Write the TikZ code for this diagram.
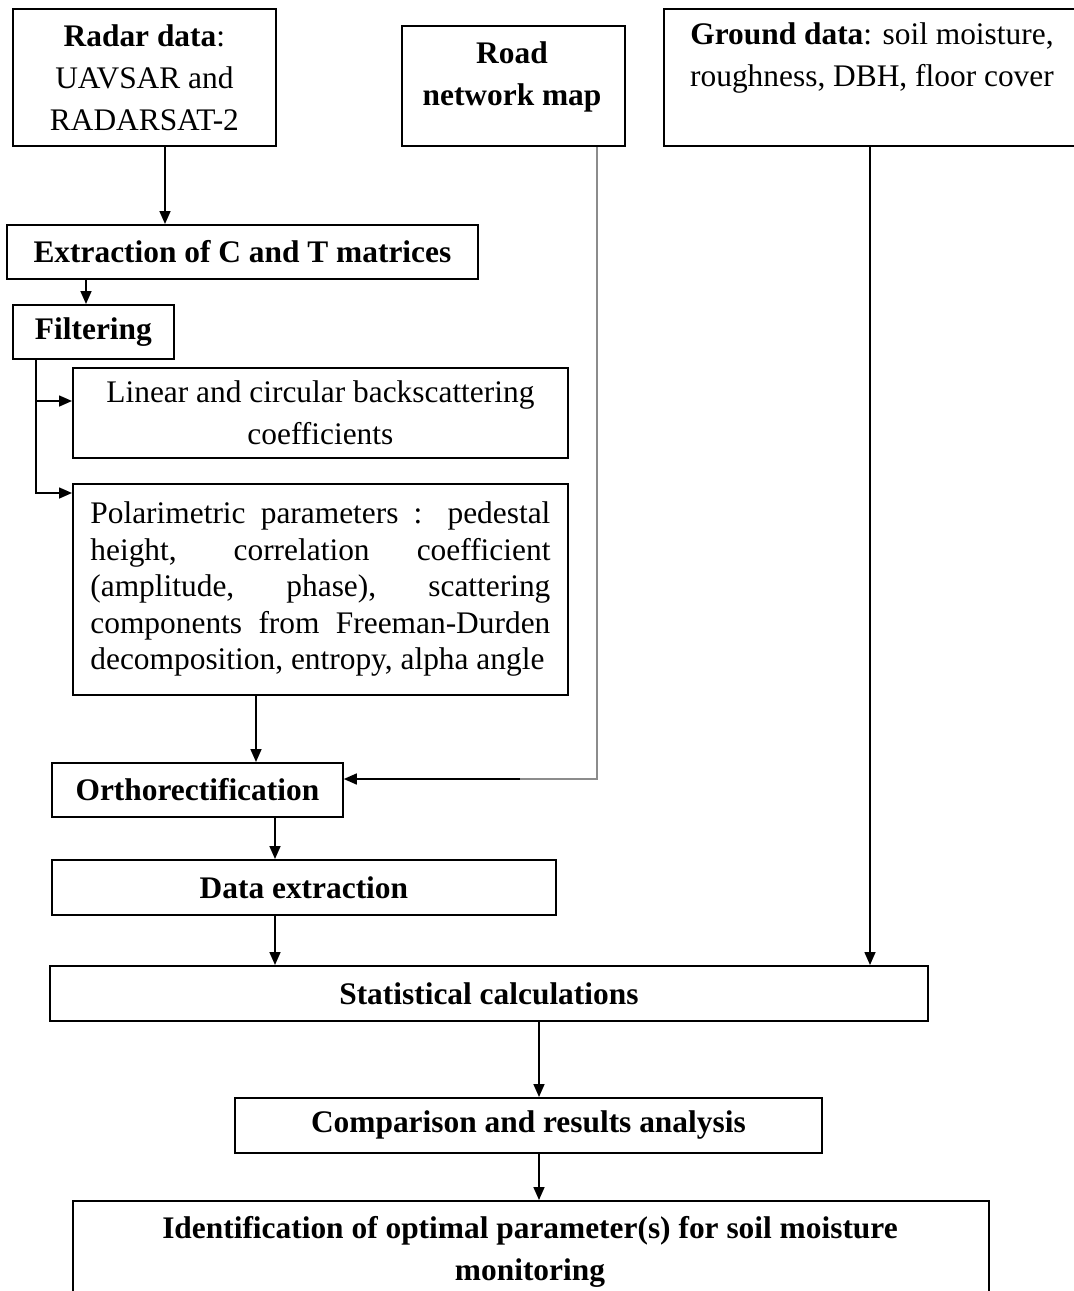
\documentclass[tikz,border=0pt]{standalone}
\usepackage{fontspec}
\setmainfont{Liberation Serif}
\usetikzlibrary{arrows.meta}
\tikzset{flow_box/.style={draw=black, line width=1.8pt, inner sep=0pt, anchor=north west, align=center, font=\fontsize{31.4}{42}\selectfont}}
\tikzset{flow_text/.style={inner sep=0pt, align=center, font=\fontsize{31.4}{42}\selectfont}}
\tikzset{flow_arrow/.style={line width=1.6pt, -{Triangle[length=13pt,width=11pt]}}}
\tikzset{road_line/.style={line width=1.6pt, draw=black!45}}

\begin{document}
\begin{tikzpicture}[x=1pt,y=-1pt]
    \useasboundingbox (0,0) rectangle (1074,1291);
    \node[flow_box,minimum width=263pt,minimum height=137pt] (radar) at (12,8) {\textbf{Radar data}:\\UAVSAR and\\RADARSAT-2};
    \node[flow_box,minimum width=223pt,minimum height=120pt] (road) at (401,25) {};
    \node[flow_text] (roadtxt) at (512,77) {\textbf{Road}\\\textbf{network map}};
    \node[flow_box,minimum width=420pt,minimum height=137pt] (ground) at (663,8) {};
    \node[flow_text] (groundtxt) at (872,58) {\textbf{Ground data}: soil moisture,\\roughness, DBH, floor cover};
    \node[flow_box,minimum width=471pt,minimum height=54pt] (extr) at (6,224) {\textbf{Extraction of C and T matrices}};
    \node[flow_box,minimum width=161pt,minimum height=54pt] (filt) at (12,304) {\textbf{Filtering}};
    \node[flow_box,minimum width=495pt,minimum height=90pt] (lin) at (72,367) {Linear and circular backscattering\\coefficients};
    \node[flow_box,minimum width=495pt,minimum height=211pt,text width=460pt,inner xsep=17.5pt,align=justify,font=\fontsize{31.4}{36.5}\selectfont] (pol) at (72,483) {\tolerance=9999 Polarimetric parameters : pedestal\linebreak height, correlation coefficient\linebreak (amplitude, phase), scattering\linebreak components from Freeman-Durden\linebreak decomposition, entropy, alpha angle};
    \node[flow_box,minimum width=291pt,minimum height=54pt] (ortho) at (51,762) {\textbf{Orthorectification}};
    \node[flow_box,minimum width=504pt,minimum height=55pt] (dext) at (51,859) {\textbf{Data extraction}};
    \node[flow_box,minimum width=878pt,minimum height=55pt] (stat) at (49,965) {\textbf{Statistical calculations}};
    \node[flow_box,minimum width=587pt,minimum height=55pt] (comp) at (234,1097) {\textbf{Comparison and results analysis}};
    \node[flow_box,minimum width=916pt,minimum height=120pt] (ident) at (72,1200) {};
    \node[flow_text] (identtxt) at (530,1252) {\textbf{Identification of optimal parameter(s) for soil moisture}\\\textbf{monitoring}};

    \draw[flow_arrow] (radar.south -| 165,0) -- (extr.north -| 165,0);
    \draw[flow_arrow] (extr.south -| 86,0) -- (filt.north -| 86,0);
    \draw[flow_arrow] (filt.south -| 36,0) |- (lin.west |- 0,401);
    \draw[flow_arrow] (filt.south -| 36,0) |- (pol.west |- 0,493);
    \draw[flow_arrow] (pol.south -| 256,0) -- (ortho.north -| 256,0);
    \draw[road_line] (road.south -| 597,0) |- (520,779) coordinate (roadturn);
    \draw[flow_arrow] (roadturn) -- (ortho.east |- roadturn);
    \draw[flow_arrow] (ortho.south -| 275,0) -- (dext.north -| 275,0);
    \draw[flow_arrow] (dext.south -| 275,0) -- (stat.north -| 275,0);
    \draw[flow_arrow] (ground.south -| 870,0) -- (stat.north -| 870,0);
    \draw[flow_arrow] (stat.south -| 539,0) -- (comp.north -| 539,0);
    \draw[flow_arrow] (comp.south -| 539,0) -- (ident.north -| 539,0);
\end{tikzpicture}
\end{document}
